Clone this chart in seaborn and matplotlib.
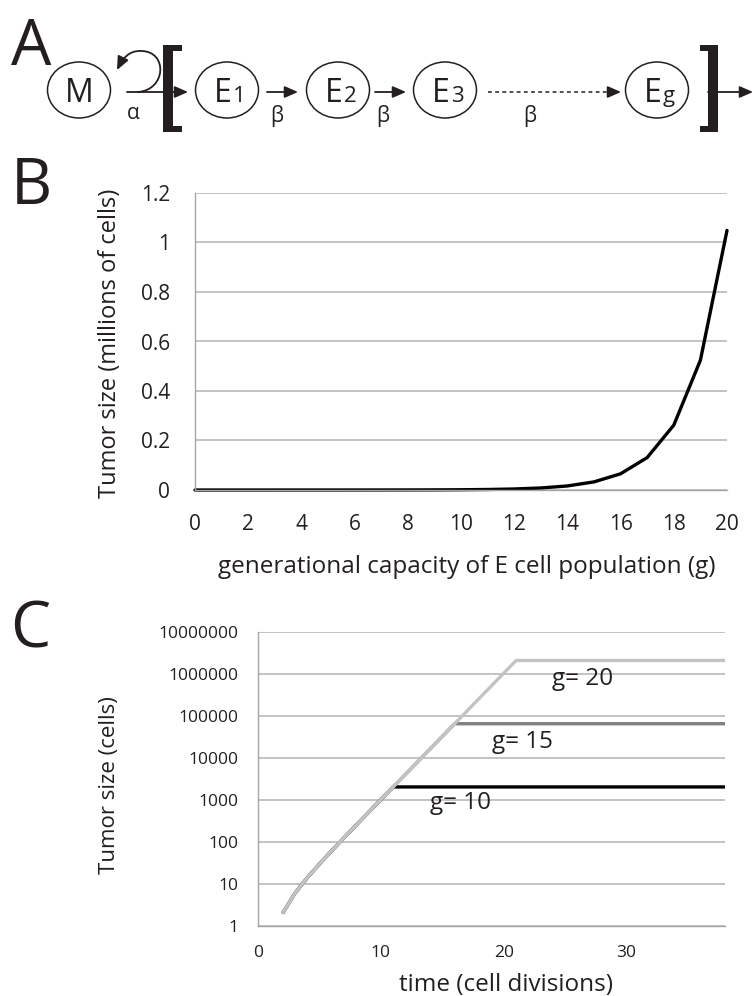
import matplotlib
matplotlib.use("Agg")
import matplotlib.pyplot as plt
from matplotlib.patches import Ellipse, Polygon, FancyArrowPatch
from matplotlib.path import Path
from matplotlib.ticker import MultipleLocator, NullLocator
import seaborn as sns
import pandas as pd

# panel B: tumor size vs generational capacity
g_values = [0, 1, 2, 3, 4, 5, 6, 7, 8, 9, 10, 11, 12, 13, 14, 15, 16, 17, 18, 19, 20]
tumor_millions = [0.000001, 0.000002, 0.000004, 0.000008, 0.000016, 0.000032,
                  0.000064, 0.000128, 0.000256, 0.000512, 0.001024, 0.002048,
                  0.004096, 0.008192, 0.016384, 0.032768, 0.065536, 0.131072,
                  0.262144, 0.524288, 1.048576]
b_yticks = [0, 0.2, 0.4, 0.6, 0.8, 1.0, 1.2]
b_ylabels = ["0", "0.2", "0.4", "0.6", "0.8", "1", "1.2"]

# panel C: tumor size over time for three capacities
time_c = list(range(2, 39))
rise_cells = [2, 6, 14, 30, 62, 126, 254, 510, 1022, 2046, 4094, 8190, 16382,
              32766, 65534, 131070, 262142, 524286, 1048574, 2097150]
caps = {"g= 10": 2046, "g= 15": 65534, "g= 20": 2097150}
c_colors = {"g= 10": "#000000", "g= 15": "#808080", "g= 20": "#c3c3c3"}
c_label_pos = {"g= 10": (16.5, 850), "g= 15": (21.5, 24000), "g= 20": (26.4, 760000)}
c_yticks = [1, 10, 100, 1000, 10000, 100000, 1000000, 10000000]

rows = []
for name, cap in caps.items():
    for i, t in enumerate(time_c):
        v = rise_cells[i] if i < len(rise_cells) else rise_cells[-1]
        rows.append({"time": t, "cells": min(v, cap), "g": name})
df_c = pd.DataFrame(rows)

sns.set_theme(style="white")
plt.rcParams["font.family"] = ["Open Sans", "DejaVu Sans"]
ink = "#231f20"
grid_c = "#b3b3b3"
W, H = 755, 996

fig = plt.figure(figsize=(7.55, 9.96), dpi=100)
ax0 = fig.add_axes([0, 0, 1, 1])
ax0.set_xlim(0, W)
ax0.set_ylim(H, 0)
ax0.axis("off")


def px_rect(l, t, r, b):
    return [l / W, 1 - b / H, (r - l) / W, (b - t) / H]


# ---- panel A diagram ----
for letter, x, y in [("A", 11, 65), ("B", 11, 204), ("C", 10, 647)]:
    ax0.text(x, y, letter, fontsize=46, ha="left", va="baseline", color=ink)

nodes = [(79, "M", ""), (227, "E", "1"), (338, "E", "2"), (445, "E", "3"), (657, "E", "g")]
for cx, big, small in nodes:
    ax0.add_patch(Ellipse((cx, 90), 63, 56, fill=False, lw=1.1, ec=ink))
    if small:
        ax0.text(cx + 5, 102, big, fontsize=23, ha="right", va="baseline", color=ink)
        ax0.text(cx + 6, 102, small, fontsize=16, ha="left", va="baseline", color=ink)
    else:
        ax0.text(cx, 102, big, fontsize=23, ha="center", va="baseline", color=ink)


def arrow(x0, x1, y=92):
    ax0.annotate("", xy=(x1, y), xytext=(x0, y),
                 arrowprops=dict(arrowstyle="-|>,head_length=0.8,head_width=0.35",
                                 lw=1.3, color=ink, shrinkA=0, shrinkB=0,
                                 mutation_scale=10))


arrow(127, 188)
arrow(267, 298)
arrow(375, 406)
arrow(708, 753)
ax0.plot([488, 612], [92, 92], color=ink, lw=1.1, ls=(0, (2.5, 2.2)))
arrow(610, 621)

loop = Path([(138, 92), (166, 90), (168, 52), (142, 51), (128, 50), (122, 60), (117, 70)],
            [Path.MOVETO, Path.CURVE4, Path.CURVE4, Path.CURVE4,
             Path.CURVE4, Path.CURVE4, Path.CURVE4])
ax0.add_patch(FancyArrowPatch(path=loop, arrowstyle="-|>,head_length=0.8,head_width=0.35",
                              mutation_scale=10, lw=1.3, color=ink))

ax0.text(133, 113, "α", fontsize=15, ha="center", va="center", color=ink)
for bx in [277, 383, 530]:
    ax0.text(bx, 116, "β", fontsize=15, ha="center", va="center", color=ink)

ax0.add_patch(Polygon([(163, 45), (182, 45), (182, 51), (173, 51), (173, 126),
                       (182, 126), (182, 132), (163, 132)], closed=True, fc=ink, ec="none"))
ax0.add_patch(Polygon([(718, 45), (700, 45), (700, 51), (708, 51), (708, 126),
                       (700, 126), (700, 132), (718, 132)], closed=True, fc=ink, ec="none"))


def style_axes(ax, ylen, xpad, ypad, lsize):
    for s in ["top", "right"]:
        ax.spines[s].set_visible(False)
    for s in ["left", "bottom"]:
        ax.spines[s].set_color("#a6a6a6")
        ax.spines[s].set_linewidth(1.0)
    ax.grid(axis="y", color=grid_c, lw=1.1)
    ax.grid(axis="x", visible=False)
    ax.set_axisbelow(True)
    ax.tick_params(axis="x", which="both", direction="out", length=5, width=1,
                   color="#a6a6a6", pad=xpad, labelsize=lsize, labelcolor=ink)
    ax.tick_params(axis="y", which="both", direction="out", length=ylen, width=1,
                   color=grid_c, pad=ypad, labelsize=lsize, labelcolor=ink)


# ---- panel B ----
axB = fig.add_axes(px_rect(195, 193, 727, 490))
sns.lineplot(x=g_values, y=tumor_millions, color="black", lw=2.4, ax=axB,
             clip_on=False, solid_joinstyle="miter")
axB.set_xlim(0, 20)
axB.set_ylim(0, 1.2)
axB.set_xticks(range(0, 21, 2))
axB.xaxis.set_minor_locator(MultipleLocator(1))
axB.set_yticks(b_yticks)
axB.set_yticklabels(b_ylabels)
style_axes(axB, 7, 12, 11, 15)
axB.set_xlabel("generational capacity of E cell population (g)", fontsize=17.5,
               color=ink)
axB.xaxis.set_label_coords(0.511, -0.259)
axB.xaxis.label.set_va("center")
axB.set_ylabel("Tumor size (millions of cells)", fontsize=17, color=ink)
axB.yaxis.set_label_coords(-0.160, 0.495)
axB.yaxis.label.set_va("center")

# ---- panel C ----
axC = fig.add_axes(px_rect(258, 632, 725, 926))
for name in ["g= 10", "g= 15", "g= 20"]:
    sub = df_c[df_c["g"] == name]
    sns.lineplot(data=sub, x="time", y="cells", color=c_colors[name], lw=2.4,
                 ax=axC, clip_on=False, solid_capstyle="butt", legend=False)
    tx, ty = c_label_pos[name]
    axC.text(tx, ty, name, fontsize=17.5, ha="center", va="center", color=ink)
axC.set_yscale("log")
axC.set_ylim(1, 1e7)
axC.set_xlim(0, 38)
axC.set_yticks(c_yticks)
axC.set_yticklabels([str(v) for v in c_yticks])
axC.yaxis.set_minor_locator(NullLocator())
axC.set_xticks([0, 10, 20, 30])
axC.xaxis.set_minor_locator(MultipleLocator(1))
style_axes(axC, 5, 9, 9, 12.5)
axC.set_xlabel("time (cell divisions)", fontsize=17.5, color=ink)
axC.xaxis.set_label_coords(0.531, -0.20)
axC.xaxis.label.set_va("center")
axC.set_ylabel("Tumor size (cells)", fontsize=16, color=ink)
axC.yaxis.set_label_coords(-0.317, 0.48)
axC.yaxis.label.set_va("center")

fig.savefig("out.png", dpi=100)
plt.close()
